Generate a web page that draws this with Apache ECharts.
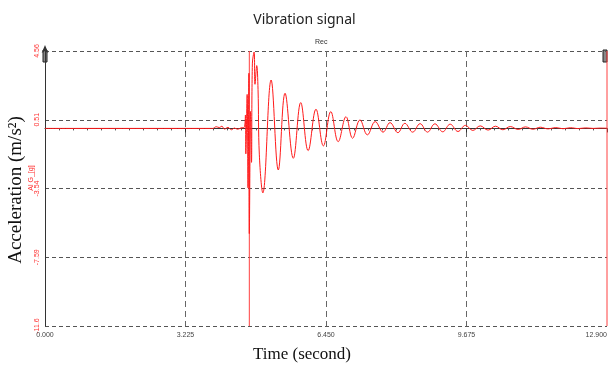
<!DOCTYPE html>
<html>
<head>
<meta charset="utf-8">
<script src="https://cdn.jsdelivr.net/npm/echarts@6/dist/echarts.min.js"></script>
<style>
  html, body { margin: 0; padding: 0; background: #fff; }
  #main { width: 609px; height: 372px; }
</style>
</head>
<body>
<div id="main"></div>
<script>
// time (s) and acceleration
const times = [
  0, 3.80, 3.85, 3.93, 4.00, 4.06, 4.12, 4.20, 4.28, 4.35, 4.42, 4.50, 4.57,
  4.60, 4.61, 4.64, 4.66, 4.68, 4.69, 4.72, 4.74, 4.76, 4.80, 4.82, 4.86, 4.89, 4.92, 5.00,
  5.19, 5.355, 5.51, 5.70, 5.87, 6.04, 6.22, 6.39, 6.56, 6.73, 6.91, 7.06, 7.23, 7.40,
  7.58, 7.76, 7.92, 8.10, 8.26, 8.44, 8.61, 8.78, 8.95, 9.13, 9.30, 9.48, 9.65, 9.82,
  9.99, 10.17, 10.34, 10.51, 10.68, 10.86, 11.03, 11.20, 11.37, 11.55, 11.72, 11.89,
  12.06, 12.24, 12.41, 12.58, 12.75, 12.90
];
const accel = [
  0, 0, 0.00, 0.10, 0.05, 0.13, -0.04, 0.06, -0.08, 0.02, -0.05, 0.03, 0.05,
  0.79, -1.5, 2.0, -3.5, 3.25, -6.2, 1.0, -2.0, 3.8, 4.5, 2.6, 3.7, 2.3, -1.56, -3.8,
  2.85, -2.45, 2.07, -1.76, 1.52, -1.31, 1.13, -1.03, 0.99, -0.78, 0.69, -0.58, 0.50, -0.38,
  0.40, -0.22, 0.34, -0.25, 0.30, -0.22, 0.28, -0.22, 0.27, -0.20, 0.25, -0.18, 0.18, -0.12,
  0.15, -0.10, 0.13, -0.08, 0.11, -0.06, 0.09, -0.05, 0.07, -0.03, 0.05, -0.02,
  0.04, -0.01, 0.03, 0.00, 0.02, 0.01
];

const xTicks = [0, 3.225, 6.45, 9.675, 12.9];
const yTicks = [-11.64, -7.59, -3.54, 0.51, 4.56];
const yTickLabels = ['-11.6', '-7.59', '-3.54', '0.51', '4.56'];
// cursor lines (s)
const cursorTimes = [4.69, 12.9];

const red = '#ff1a1a';
const yMin = yTicks[0];
const yMax = yTicks[yTicks.length - 1];
const chart = echarts.init(document.getElementById('main'));

function yLabel(v) {
  for (let i = 0; i < yTicks.length; i++) {
    if (Math.abs(yTicks[i] - v) < 1e-6) return yTickLabels[i];
  }
  return '';
}

const cursorSeries = cursorTimes.map(t => ({
  type: 'line',
  data: [[t, yMin], [t, yMax]],
  showSymbol: false,
  silent: true,
  clip: false,
  z: 1,
  itemStyle: { color: '#ff4040' },
  lineStyle: { color: '#ff4040', width: 1 }
}));

chart.setOption({
  animation: false,
  backgroundColor: '#fff',
  title: {
    text: 'Vibration signal',
    left: 'center',
    top: 8,
    textStyle: { fontFamily: 'Noto Sans', fontSize: 14, fontWeight: 'normal', color: '#222' }
  },
  grid: { left: 45, right: 2, top: 51, bottom: 46, containLabel: false, outerBoundsMode: 'none' },
  xAxis: {
    type: 'value',
    min: xTicks[0],
    max: xTicks[xTicks.length - 1],
    interval: xTicks[1] - xTicks[0],
    axisLine: { lineStyle: { color: '#333', width: 1 } },
    axisTick: { length: 4, lineStyle: { color: '#333' } },
    minorTick: { show: true, splitNumber: 10, length: 2, lineStyle: { color: '#555' } },
    axisLabel: {
      fontFamily: 'Liberation Sans', fontSize: 7, color: '#444', margin: 6,
      alignMaxLabel: 'right',
      formatter: v => v.toFixed(3)
    },
    splitLine: { show: true, showMinLine: false, showMaxLine: false,
      lineStyle: { type: [6, 4], color: '#666', width: 1 } }
  },
  yAxis: {
    type: 'value',
    min: yMin,
    max: yMax,
    axisLine: { show: true, lineStyle: { color: '#333', width: 1 },
      symbol: ['none', 'arrow'], symbolSize: [5, 8], symbolOffset: [0, 6] },
    axisTick: { show: false, customValues: yTicks },
    axisLabel: {
      customValues: yTicks, rotate: 90, fontFamily: 'Liberation Sans', fontSize: 7,
      color: '#ff3030', margin: 4, formatter: yLabel
    },
    splitLine: { show: true, lineStyle: { type: [4, 3], color: '#555', width: 1 } }
  },
  graphic: [
    { type: 'text', left: 315, top: 39,
      style: { text: 'Rec', font: '7px "Liberation Sans"', fill: '#333' } },
    { type: 'text', x: 302, y: 355,
      style: { text: 'Time (second)', font: '17px "Liberation Serif"', fill: '#111',
        align: 'center', verticalAlign: 'middle' } },
    { type: 'text', x: 16, y: 190, rotation: Math.PI / 2,
      style: { text: 'Acceleration (m/s\u00b2)', font: '19px "Liberation Serif"', fill: '#111',
        align: 'center', verticalAlign: 'middle' } },
    { type: 'text', x: 31, y: 178, rotation: Math.PI / 2,
      style: { text: 'Al G_[g]', font: '7px "Liberation Sans"', fill: '#ff3030',
        align: 'center', verticalAlign: 'middle' } },
    { type: 'rect', shape: { x: 43, y: 50, width: 4, height: 12 },
      style: { fill: '#888', stroke: '#222', lineWidth: 1 } },
    { type: 'rect', shape: { x: 603, y: 50, width: 4, height: 12 },
      style: { fill: '#888', stroke: '#222', lineWidth: 1 } }
  ],
  series: cursorSeries.concat([{
    type: 'line',
    data: times.map((t, i) => [t, accel[i]]),
    showSymbol: false,
    smooth: 0.4,
    z: 3,
    itemStyle: { color: red },
    lineStyle: { color: red, width: 1 }
  }])
});
</script>
</body>
</html>
